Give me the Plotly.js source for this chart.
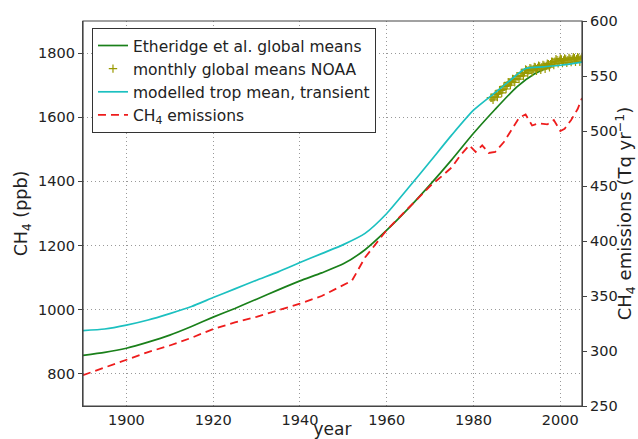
<!DOCTYPE html>
<html>
<head>
<meta charset="utf-8">
<script src="https://cdn.plot.ly/plotly-3.0.1.min.js"></script>
<style>html,body{margin:0;padding:0;background:#fff;}#chart{width:638px;height:439px;}</style>
</head>
<body>
<div id="chart"></div>
<script>
// Etheridge et al. global means (ppb)
const ethYears = [1890,1895,1900,1905,1910,1915,1920,1925,1930,1935,1940,1945,1950,1955,1960,1965,1970,1975,1980,1985,1990,1994,1998];
const ethCH4   = [858, 867, 880, 899, 921, 948, 977,1004,1033,1062,1090,1115,1143,1187,1248,1316,1390,1468,1550,1625,1695,1735,1760];

// modelled troposphere mean, transient (ppb)
const modYears = [1890,1895,1900,1905,1910,1915,1920,1925,1930,1935,1940,1945,1950,1955,1960,1965,1970,1975,1980,1985,1988,1992,1996,2000,2005];
const modCH4   = [935, 940, 952, 968, 988,1010,1038,1065,1092,1118,1147,1175,1203,1238,1300,1380,1462,1545,1622,1677,1710,1752,1757,1762,1772];

// CH4 emissions (Tg/yr)
const emiYears = [1890,1895,1900,1905,1910,1915,1920,1925,1930,1935,1940,1945,1950,1952,1955,1960,1965,1970,1973,1975,1977,1979,1980.5,1982,1983.5,1985,1987,1989,1990.5,1992,1993.5,1995,1997,1998.5,2000,2001,2002.5,2004,2005];
const emiVals  = [278, 285, 292, 299, 305, 312, 320, 326, 331, 337, 343, 350, 360, 364, 385, 410, 430, 450, 460, 467, 478, 487, 481,  487, 480,   481, 490, 503, 512,   515, 505,   507, 506, 510,   500, 502, 510,   520, 530];

// monthly global means NOAA (ppb), sampled quarterly
const noaaYears = [1984,1984.25,1984.5,1984.75,1985,1985.25,1985.5,1985.75,1986,1986.25,1986.5,1986.75,1987,1987.25,1987.5,1987.75,1988,1988.25,1988.5,1988.75,1989,1989.25,1989.5,1989.75,1990,1990.25,1990.5,1990.75,1991,1991.25,1991.5,1991.75,1992,1992.25,1992.5,1992.75,1993,1993.25,1993.5,1993.75,1994,1994.25,1994.5,1994.75,1995,1995.25,1995.5,1995.75,1996,1996.25,1996.5,1996.75,1997,1997.25,1997.5,1997.75,1998,1998.25,1998.5,1998.75,1999,1999.25,1999.5,1999.75,2000,2000.25,2000.5,2000.75,2001,2001.25,2001.5,2001.75,2002,2002.25,2002.5,2002.75,2003,2003.25,2003.5,2003.75,2004,2004.25,2004.5,2004.75,2005];
const noaaCH4   = [1661,1661,1654,1663,1671,1671,1663,1675,1684,1684,1676,1687,1696,1696,1688,1700,1709,1708,1700,1710,1719,1718,1709,1720,1728,1727,1719,1729,1738,1738,1729,1740,1749,1747,1737,1746,1753,1751,1741,1750,1757,1755,1745,1754,1761,1758,1748,1756,1763,1761,1751,1760,1767,1765,1756,1765,1773,1772,1763,1773,1781,1778,1768,1776,1783,1780,1769,1777,1783,1780,1770,1778,1785,1782,1772,1780,1787,1784,1773,1781,1787,1784,1773,1782,1788];

const xTicks = [1900,1920,1940,1960,1980,2000];
const yTicks = [800,1000,1200,1400,1600,1800];
const y2Ticks = [250,300,350,400,450,500,550,600];

const FONT = 'DejaVu Sans, sans-serif';

const traces = [
  {x: ethYears, y: ethCH4, type: 'scatter', mode: 'lines', name: 'Etheridge et al. global means',
   line: {color: '#1a801a', width: 1.7, shape: 'spline', smoothing: 0.6}},
  {x: noaaYears, y: noaaCH4, type: 'scatter', mode: 'markers', name: 'monthly global means NOAA',
   marker: {symbol: 'cross-thin', size: 6, line: {color: '#999900', width: 1.2}, color: '#999900'}},
  {x: modYears, y: modCH4, type: 'scatter', mode: 'lines', name: 'modelled trop mean, transient',
   line: {color: '#1cc0c0', width: 1.7, shape: 'spline', smoothing: 0.6}},
  {x: emiYears, y: emiVals, type: 'scatter', mode: 'lines', name: 'CH<sub>4</sub> emissions', yaxis: 'y2',
   line: {color: '#ee1c1c', width: 1.8, dash: '8px,5px'}}
];

const axisCommon = {
  showline: true, linecolor: '#444', linewidth: 1.2, mirror: false,
  zeroline: false, tickfont: {family: FONT, size: 14.5, color: '#222'},
  griddash: '1px,3px', gridcolor: '#999', gridwidth: 1
};

const layout = {
  width: 638, height: 439,
  margin: {l: 83, r: 56, t: 21, b: 33},
  paper_bgcolor: '#fff', plot_bgcolor: '#fff',
  font: {family: FONT, color: '#222'},
  showlegend: true,
  legend: {x: 0.018, y: 0.982, xanchor: 'left', yanchor: 'top',
           bgcolor: '#fff', bordercolor: '#333', borderwidth: 1, itemwidth: 30,
           font: {family: FONT, size: 15.5, color: '#222'}, tracegroupgap: 0},
  shapes: [{type: 'rect', xref: 'paper', yref: 'paper', x0: 0, x1: 1, y0: 0, y1: 1,
            line: {color: '#444', width: 1.2}, fillcolor: 'rgba(0,0,0,0)', layer: 'above'}],
  xaxis: Object.assign({}, axisCommon, {
    range: [1890, 2005], tickvals: xTicks, ticktext: xTicks.map(String),
    showgrid: true, ticks: '',
    title: {text: 'year', font: {family: FONT, size: 17, color: '#222'}, standoff: 0}
  }),
  yaxis: Object.assign({}, axisCommon, {
    range: [700, 1900], tickvals: yTicks, ticktext: yTicks.map(String),
    showgrid: true, ticks: 'outside', ticklen: 4, tickcolor: '#444',
    title: {text: 'CH<sub>4</sub> (ppb)', font: {family: FONT, size: 17.5, color: '#222'}, standoff: 5}
  }),
  yaxis2: Object.assign({}, axisCommon, {
    range: [250, 600], tickvals: y2Ticks, ticktext: y2Ticks.map(String),
    overlaying: 'y', side: 'right', showgrid: false, ticks: 'outside', ticklen: 4, tickcolor: '#444',
    title: {text: 'CH<sub>4</sub> emissions (Tq yr<sup>−1</sup>)', font: {family: FONT, size: 18, color: '#222'}, standoff: 8}
  })
};

Plotly.newPlot('chart', traces, layout, {staticPlot: true, displayModeBar: false});
</script>
</body>
</html>
